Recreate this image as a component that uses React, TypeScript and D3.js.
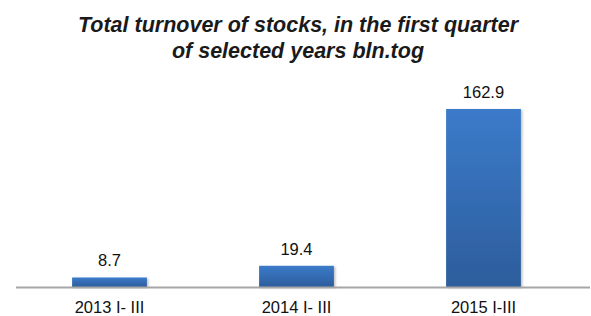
import * as d3 from 'd3'
import { useEffect, useRef } from 'react'

const categories = ['2013 I- III', '2014 I- III', '2015 I-III']
const values = [8.7, 19.4, 162.9]
const titleLines = ['Total turnover of stocks, in the first quarter', 'of selected years bln.tog']

const W = 591
const H = 316

export default function App() {
  const ref = useRef<SVGSVGElement>(null)

  useEffect(() => {
    const svg = d3.select(ref.current)
    svg.selectAll('*').remove()

    const baseY = 287
    const x = d3.scaleBand().domain(categories).range([16, 577]).paddingInner(0.6).paddingOuter(0.3)
    const y = d3.scaleLinear().domain([0, 180]).range([baseY, 90.3])

    const defs = svg.append('defs')
    const grad = defs
      .append('linearGradient')
      .attr('id', 'barGrad')
      .attr('x1', 0)
      .attr('y1', 0)
      .attr('x2', 0)
      .attr('y2', 1)
    grad.append('stop').attr('offset', '0%').attr('stop-color', '#3b7bca')
    grad.append('stop').attr('offset', '100%').attr('stop-color', '#2d5d9c')

    const shadow = defs.append('filter').attr('id', 'shadow').attr('x', '-10%').attr('y', '-10%').attr('width', '130%').attr('height', '130%')
    shadow
      .append('feDropShadow')
      .attr('dx', 1.5)
      .attr('dy', 1)
      .attr('stdDeviation', 1.2)
      .attr('flood-color', '#000')
      .attr('flood-opacity', 0.25)

    // title
    svg
      .append('g')
      .selectAll('text')
      .data(titleLines)
      .join('text')
      .attr('x', 298)
      .attr('y', (d, i) => 32 + i * 26)
      .attr('text-anchor', 'middle')
      .attr('font-family', 'Liberation Sans, Arial, sans-serif')
      .attr('font-size', 21.5)
      .attr('font-weight', 'bold')
      .attr('font-style', 'italic')
      .attr('fill', '#1a1a1a')
      .text((d) => d)

    // bars
    svg
      .append('g')
      .selectAll('rect')
      .data(values)
      .join('rect')
      .attr('x', (d, i) => x(categories[i])!)
      .attr('y', (d) => y(d))
      .attr('width', x.bandwidth())
      .attr('height', (d) => baseY - y(d))
      .attr('fill', 'url(#barGrad)')
      .attr('filter', 'url(#shadow)')

    // axis line
    svg
      .append('line')
      .attr('x1', 16)
      .attr('x2', 590)
      .attr('y1', baseY + 0.5)
      .attr('y2', baseY + 0.5)
      .attr('stroke', '#a6a6a6')
      .attr('stroke-width', 1.8)

    // value labels
    svg
      .append('g')
      .selectAll('text')
      .data(values)
      .join('text')
      .attr('x', (d, i) => x(categories[i])! + x.bandwidth() / 2)
      .attr('y', (d) => y(d) - 11)
      .attr('text-anchor', 'middle')
      .attr('font-family', 'Liberation Sans, Arial, sans-serif')
      .attr('font-size', 16.5)
      .attr('fill', '#111')
      .text((d) => d.toFixed(1))

    // category labels
    svg
      .append('g')
      .selectAll('text')
      .data(categories)
      .join('text')
      .attr('x', (d) => x(d)! + x.bandwidth() / 2)
      .attr('y', 313)
      .attr('text-anchor', 'middle')
      .attr('font-family', 'Liberation Sans, Arial, sans-serif')
      .attr('font-size', 16.5)
      .attr('fill', '#111')
      .text((d) => d)
  }, [])

  return (
    <svg
      ref={ref}
      width={W}
      height={H}
      style={{ position: 'absolute', left: 0, top: 0, background: '#fff' }}
    />
  )
}
